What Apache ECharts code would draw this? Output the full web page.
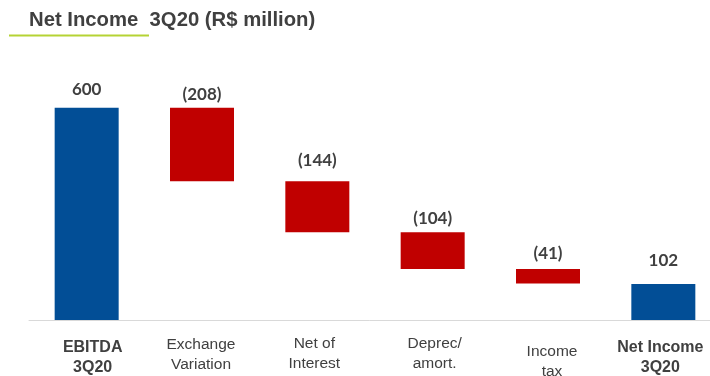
<!DOCTYPE html>
<html>
<head>
<meta charset="utf-8">
<script src="https://cdn.jsdelivr.net/npm/echarts@6/dist/echarts.min.js"></script>
<style>html,body{margin:0;padding:0;background:#fff}#c{width:710px;height:376px}</style>
</head>
<body>
<div id="c"></div>
<script>
const categories = ['EBITDA\n3Q20', 'Exchange\nVariation', 'Net of\nInterest', 'Deprec/\namort.', 'Income\ntax', 'Net Income\n3Q20'];
const values = [600, -208, -144, -104, -41, 102];
const kinds = ['total', 'delta', 'delta', 'delta', 'delta', 'total'];
const valueLabels = ['600', '(208)', '(144)', '(104)', '(41)', '102'];

// styling per category (not data)
const labelPad = [4, 1, 0, 0, 8, 4];
const labelShift = [6, -1, -3, 2, 4, -3];
const labelDist = [9, 4, 12, 5, 7, 14];

const BLUE = '#024e96', RED = '#c00000', TXT = '#404040';

// waterfall computation from values
let running = 0;
const baseData = [], barData = [];
values.forEach((v, i) => {
  if (kinds[i] === 'total') {
    baseData.push(0);
    barData.push(v);
    running = v;
  } else {
    running += v;
    baseData.push(running);
    barData.push(-v);
  }
});

const chart = echarts.init(document.getElementById('c'));
chart.setOption({
  animation: false,
  title: {
    text: 'Net Income  3Q20 (R$ million)',
    left: 29, top: 10, padding: 0,
    textStyle: { fontFamily: 'Liberation Sans, Arial', fontWeight: 'bold', fontSize: 20.3, color: TXT }
  },
  graphic: [{
    type: 'line', shape: { x1: 9, y1: 35.5, x2: 149, y2: 35.5 },
    style: { stroke: '#b5d334', lineWidth: 2 }
  }],
  grid: { left: 29, width: 692, top: 72.3, bottom: 56, containLabel: false, outerBoundsMode: 'none' },
  xAxis: {
    type: 'category',
    data: categories.map((c, i) => ({
      value: c,
      textStyle: {
        fontWeight: (kinds[i] === 'total') ? 'bold' : 'normal',
        fontSize: (kinds[i] === 'total') ? 16 : 15.5,
        padding: [labelPad[i], 2 * Math.max(-labelShift[i], 0), 0, 2 * Math.max(labelShift[i], 0)]
      }
    })),
    axisLine: { lineStyle: { color: '#d9d9d9', width: 1 } },
    axisTick: { show: false },
    axisLabel: {
      interval: 0, margin: 13.5, color: TXT, fontSize: 15.5, lineHeight: 20,
      fontFamily: 'Liberation Sans, Arial'
    }
  },
  yAxis: { type: 'value', min: 0, max: 700, show: false, splitLine: { show: false } },
  series: [
    {
      type: 'bar', stack: 'w', data: baseData,
      itemStyle: { color: 'transparent' }, silent: true, barWidth: 64
    },
    {
      type: 'bar', stack: 'w', barWidth: 64,
      data: barData.map((v, i) => ({
        value: v,
        itemStyle: { color: kinds[i] === 'total' ? BLUE : RED },
        label: { distance: labelDist[i] }
      })),
      label: {
        show: true, position: 'top',
        formatter: p => valueLabels[p.dataIndex],
        fontFamily: 'Lato, Open Sans', fontWeight: 'bold', fontSize: 17, color: TXT, lineHeight: 18
      }
    }
  ]
});
</script>
</body>
</html>
